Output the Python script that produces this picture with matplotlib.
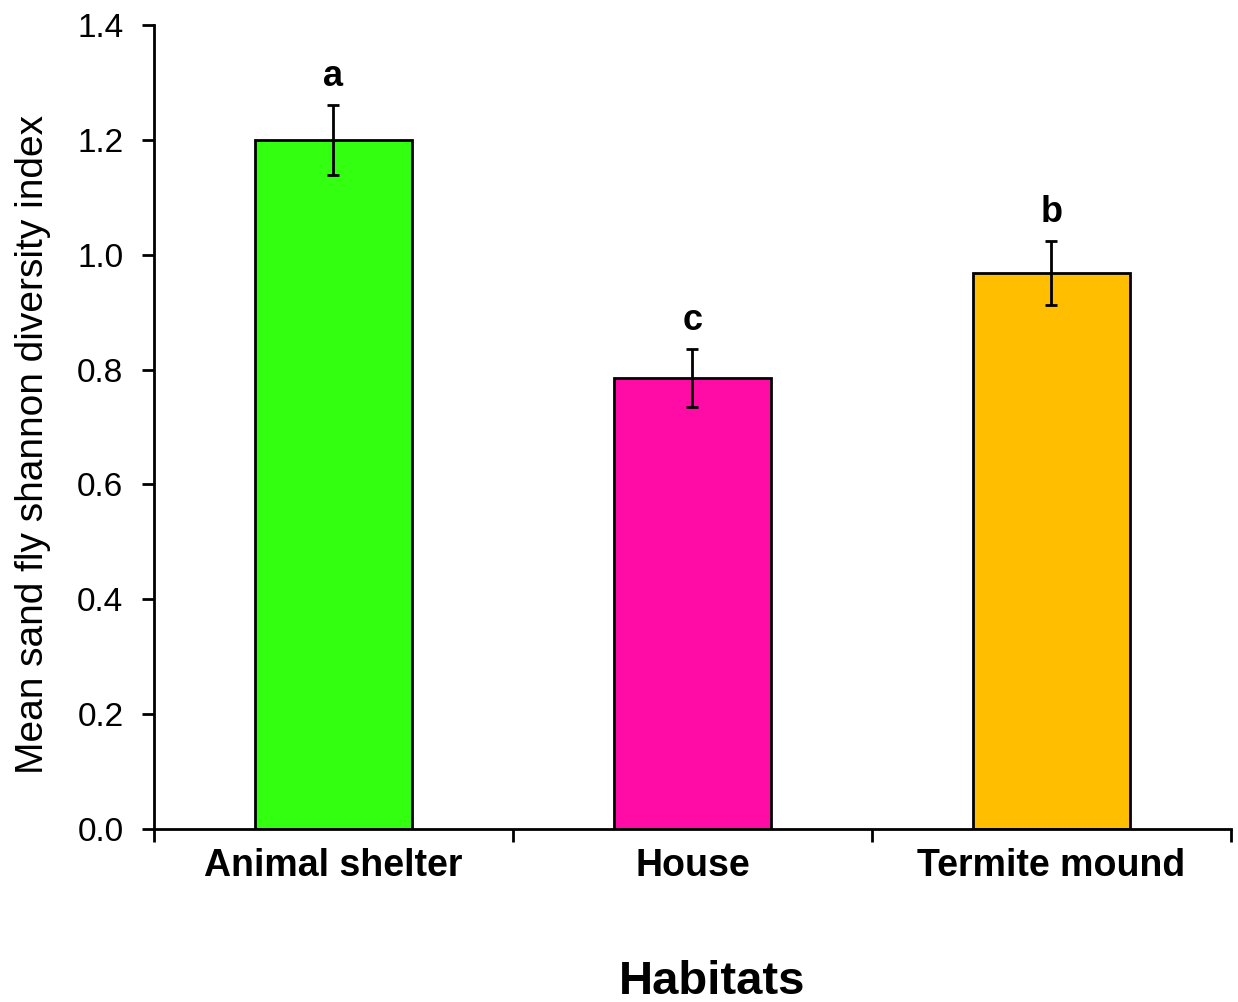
import matplotlib
matplotlib.use("Agg")
import matplotlib.pyplot as plt
from matplotlib.ticker import FixedLocator

plt.rcParams["font.family"] = ["Liberation Sans", "DejaVu Sans"]

habitats = ["Animal shelter", "House", "Termite mound"]
means = [1.20, 0.785, 0.968]
errors = [0.061, 0.050, 0.056]
letters = ["a", "c", "b"]
colors = ["#33FF10", "#FF0BA6", "#FFBF00"]

fig = plt.figure(figsize=(12.38, 10.02), dpi=100)
ax = fig.add_axes([0.1244, 0.1727, 0.8699, 0.8023])

x = range(len(habitats))
ax.bar(x, means, width=0.435, color=colors, edgecolor="black", linewidth=2, zorder=2)
ax.errorbar(x, means, yerr=errors, fmt="none", ecolor="black", elinewidth=2,
            capsize=4.5, capthick=2, zorder=3)

for xi, m, e, lab in zip(x, means, errors, letters):
    ax.text(xi, m + e + 0.05, lab, ha="center", va="center",
            fontsize=26, fontweight="bold")

ax.set_xlim(-0.5, 2.5)
ax.set_ylim(0, 1.4)
ax.set_yticks([0.0, 0.2, 0.4, 0.6, 0.8, 1.0, 1.2, 1.4])
ax.set_yticklabels([f"{v:.1f}" for v in ax.get_yticks()], fontsize=24)
ax.set_xticks(list(x))
ax.set_xticklabels(habitats, fontsize=27, fontweight="bold")
ax.tick_params(axis="x", which="major", length=0, pad=14)
ax.xaxis.set_minor_locator(FixedLocator([-0.5, 0.5, 1.5, 2.5]))
ax.tick_params(axis="x", which="minor", length=9, width=2)
ax.tick_params(axis="y", length=9, width=2, pad=13)

for side in ["top", "right"]:
    ax.spines[side].set_visible(False)
for side in ["left", "bottom"]:
    ax.spines[side].set_linewidth(2)

ax.set_ylabel("Mean sand fly shannon diversity index", fontsize=28)
ax.yaxis.set_label_coords(-0.096, 0.478)
fig.text(712 / 1238, 1 - 982 / 1002, "Habitats", ha="center", va="center",
         fontsize=34, fontweight="bold")

fig.savefig("out.png", dpi=100)
